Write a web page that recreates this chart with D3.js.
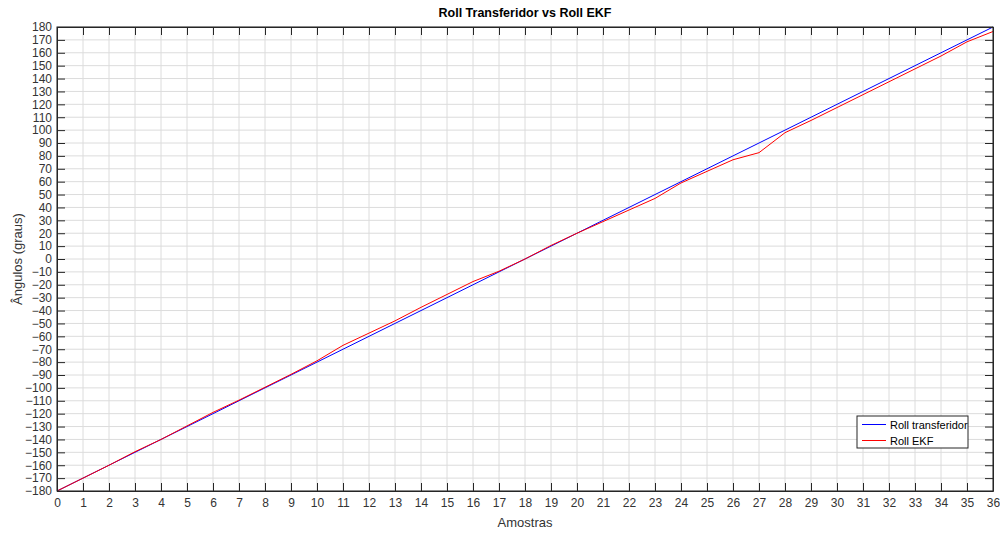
<!DOCTYPE html>
<html><head><meta charset="utf-8">
<script src="https://cdn.jsdelivr.net/npm/d3@7"></script>
<style>body{margin:0;background:#fff;}svg{display:block;font-family:"Liberation Sans",Arial,sans-serif;}</style>
</head><body>
<svg id="c" width="1000" height="534"></svg>
<script>
const samples = d3.range(0, 37);
const rollTransferidor = [-180,-170,-160,-150,-140,-130,-120,-110,-100,-90,-80,-70,-60,-50,-40,-30,-20,-10,0,10,20,30,40,50,60,70,80,90,100,110,120,130,140,150,160,170,180];
const rollEKF = [-180,-170,-160,-149.5,-140,-129.5,-119,-109.5,-99.5,-89.5,-79,-67,-57.5,-48,-37.5,-27.5,-17.5,-9.5,0,10.5,20,29,38,47,59,68,77,82.5,98,107.5,117.5,127.5,137.5,147.5,157.5,168.5,176.5];
const xTicks = d3.range(0, 37, 1);
const yTicks = d3.range(-180, 181, 10);
const seriesNames = ["Roll transferidor", "Roll EKF"];
const seriesColors = ["#0000ff", "#ff0000"];

const svg = d3.select("#c");
const L = 57, R = 993, T = 27, B = 491;
const x = d3.scaleLinear().domain([0, 36]).range([L, R]);
const y = d3.scaleLinear().domain([-180, 180]).range([B, T]);
const axisColor = "#262626";

// grid
svg.append("g").selectAll("line").data(xTicks).join("line")
  .attr("x1", d => x(d)).attr("x2", d => x(d)).attr("y1", T).attr("y2", B)
  .attr("stroke", "#dcdcdc").attr("stroke-width", 1);
svg.append("g").selectAll("line").data(yTicks).join("line")
  .attr("y1", d => y(d)).attr("y2", d => y(d)).attr("x1", L).attr("x2", R)
  .attr("stroke", "#dcdcdc").attr("stroke-width", 1);

// lines
const line = d3.line().x((d, i) => x(samples[i])).y(d => y(d));
[rollTransferidor, rollEKF].forEach((s, k) => {
  svg.append("path").datum(s).attr("d", line).attr("fill", "none")
    .attr("stroke", seriesColors[k]).attr("stroke-width", 1);
});

// axes
const tl = 8;
const xb = svg.append("g").attr("transform", `translate(0,${B})`)
  .call(d3.axisBottom(x).tickValues(xTicks).tickFormat(d3.format("d")).tickSizeInner(-tl).tickSizeOuter(0).tickPadding(5));
const xt = svg.append("g").attr("transform", `translate(0,${T})`)
  .call(d3.axisTop(x).tickValues(xTicks).tickFormat("").tickSizeInner(-tl).tickSizeOuter(0));
const yl = svg.append("g").attr("transform", `translate(${L},0)`)
  .call(d3.axisLeft(y).tickValues(yTicks).tickFormat(d3.format("d")).tickSizeInner(-tl).tickSizeOuter(0).tickPadding(5));
const yr = svg.append("g").attr("transform", `translate(${R},0)`)
  .call(d3.axisRight(y).tickValues(yTicks).tickFormat("").tickSizeInner(-tl).tickSizeOuter(0));
[xb, xt, yl, yr].forEach(g => {
  g.selectAll("path.domain").attr("stroke", axisColor);
  g.selectAll(".tick line").attr("stroke", axisColor);
  g.selectAll("text").attr("fill", "#333").style("font-size", "12px").style("font-family", "'Liberation Sans',Arial,sans-serif");
});
xb.selectAll("text").attr("dy", "0.9em");
svg.append("rect").attr("x", L).attr("y", T).attr("width", R - L).attr("height", B - T)
  .attr("fill", "none").attr("stroke", axisColor).attr("stroke-width", 1);

// title & labels
svg.append("text").attr("x", (L + R) / 2).attr("y", 17).attr("text-anchor", "middle")
  .style("font-weight", "bold").style("font-size", "12.5px").attr("fill", "#000")
  .text("Roll Transferidor vs Roll EKF");
svg.append("text").attr("x", (L + R) / 2).attr("y", 527).attr("text-anchor", "middle")
  .style("font-size", "13px").attr("fill", "#333").text("Amostras");
svg.append("text").attr("transform", `translate(22,${(T + B) / 2}) rotate(-90)`).attr("text-anchor", "middle")
  .style("font-size", "13px").attr("fill", "#333").text("Ângulos (graus)");

// legend
const lg = svg.append("g").attr("transform", "translate(857,416)");
lg.append("rect").attr("width", 111).attr("height", 32).attr("fill", "#fff").attr("stroke", axisColor).attr("stroke-width", 1);
seriesNames.forEach((n, i) => {
  const yy = 8.5 + i * 16;
  lg.append("line").attr("x1", 5).attr("x2", 29).attr("y1", yy).attr("y2", yy).attr("stroke", seriesColors[i]).attr("stroke-width", 1);
  lg.append("text").attr("x", 33).attr("y", yy + 4).style("font-size", "11px").attr("fill", "#000").text(n);
});
</script>
</body></html>
